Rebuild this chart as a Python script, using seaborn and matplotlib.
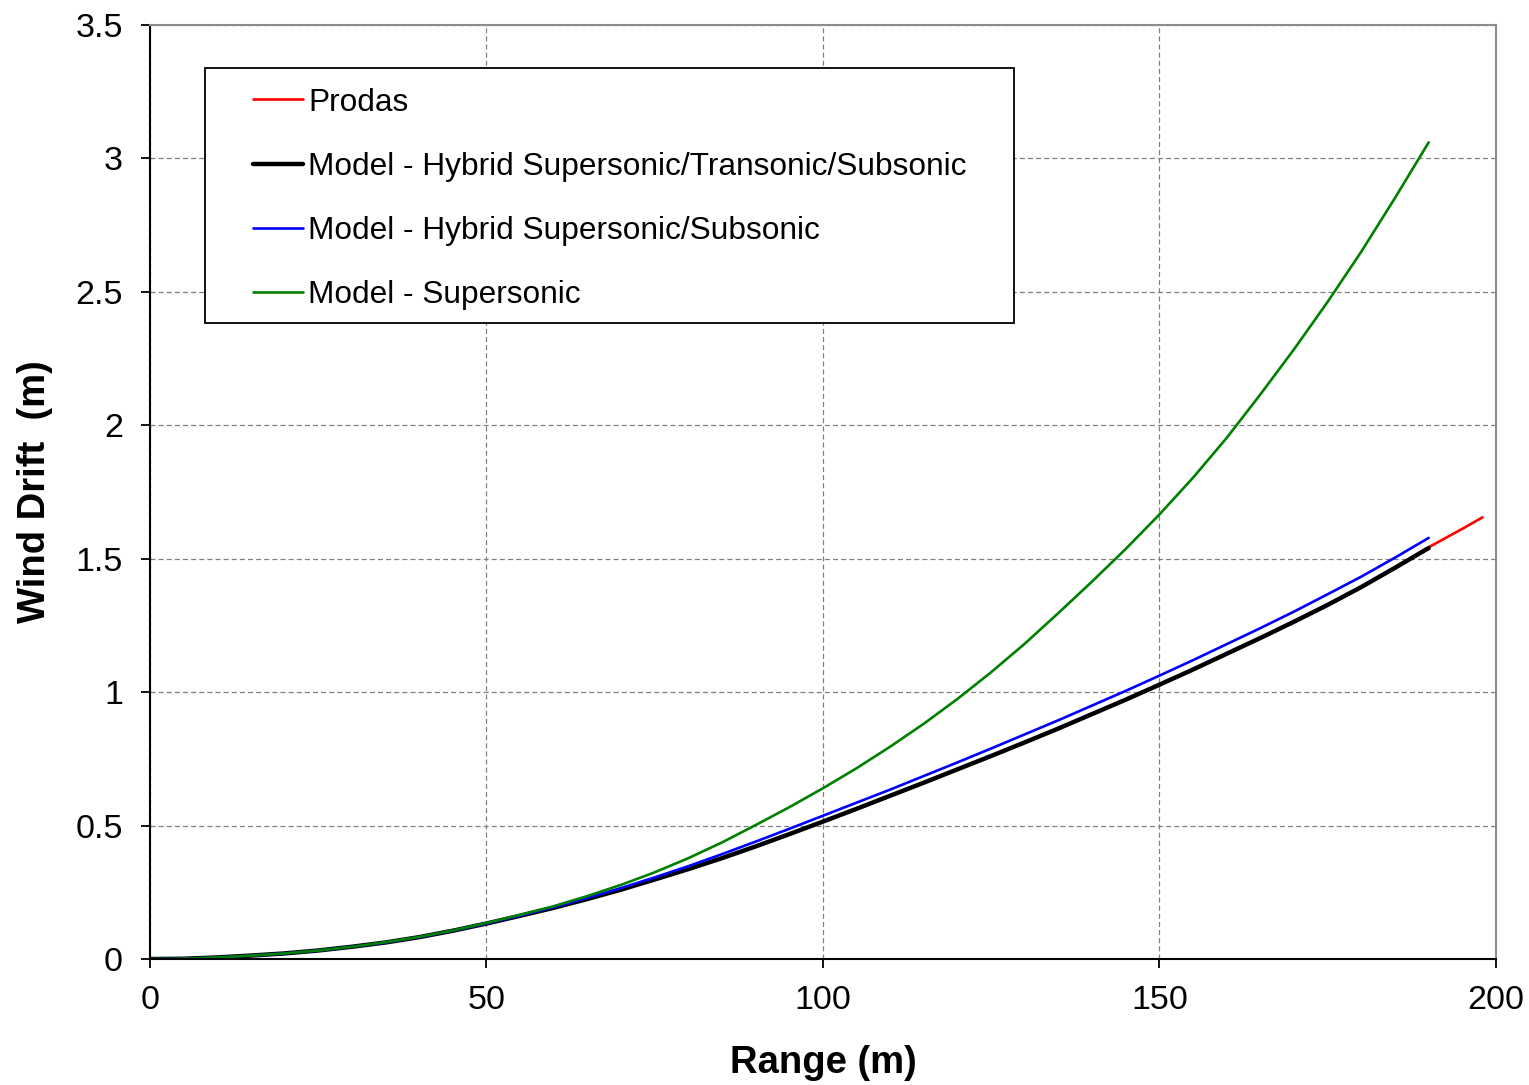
import numpy as np
import pandas as pd
import matplotlib
matplotlib.use("Agg")
import matplotlib.pyplot as plt
from matplotlib.lines import Line2D
from matplotlib.patches import Rectangle
import seaborn as sns

# Range in metres for the model curves (5 m steps)
range_m = [0, 5, 10, 15, 20, 25, 30, 35, 40, 45, 50, 55, 60, 65, 70, 75, 80, 85, 90, 95,
           100, 105, 110, 115, 120, 125, 130, 135, 140, 145, 150, 155, 160, 165, 170,
           175, 180, 185, 190]
# Prodas reference extends slightly further
prodas_range = range_m + [195, 198]

hybrid_sts = [0, 0.001, 0.006, 0.013, 0.021, 0.032, 0.046, 0.062, 0.082, 0.106, 0.133,
              0.162, 0.192, 0.225, 0.26, 0.298, 0.337, 0.378, 0.422, 0.468, 0.515,
              0.563, 0.612, 0.661, 0.711, 0.761, 0.812, 0.864, 0.918, 0.972, 1.028,
              1.085, 1.144, 1.203, 1.264, 1.327, 1.394, 1.466, 1.54]
prodas = hybrid_sts[:-1] + [1.543, 1.612, 1.655]
hybrid_ss = [0, 0.001, 0.006, 0.013, 0.021, 0.032, 0.046, 0.062, 0.082, 0.106, 0.133,
             0.163, 0.194, 0.229, 0.266, 0.306, 0.348, 0.393, 0.44, 0.488, 0.537,
             0.586, 0.635, 0.686, 0.737, 0.789, 0.842, 0.895, 0.95, 1.005, 1.062,
             1.12, 1.18, 1.24, 1.302, 1.367, 1.433, 1.504, 1.578]
supersonic = [0, 0.001, 0.006, 0.013, 0.021, 0.032, 0.046, 0.063, 0.083, 0.107, 0.135,
              0.166, 0.198, 0.236, 0.278, 0.325, 0.378, 0.437, 0.502, 0.569, 0.64,
              0.715, 0.796, 0.882, 0.975, 1.075, 1.182, 1.297, 1.415, 1.537, 1.666,
              1.804, 1.953, 2.116, 2.285, 2.463, 2.651, 2.852, 3.06]

labels = ["Prodas",
          "Model - Hybrid Supersonic/Transonic/Subsonic",
          "Model - Hybrid Supersonic/Subsonic",
          "Model - Supersonic"]
colors = ["#ff0000", "#000000", "#0000ff", "#008000"]
widths = [1.9, 3.2, 1.9, 1.9]

sns.set_theme(style="white")
plt.rcParams["font.family"] = ["Liberation Sans", "DejaVu Sans"]
plt.rcParams["text.color"] = "black"

fig = plt.figure(figsize=(15.29, 10.85), dpi=100)
ax = fig.add_axes([0.0981, 0.1161, 0.8803, 0.8609])

series = [
    (prodas_range, prodas),
    (range_m, hybrid_sts),
    (range_m, hybrid_ss),
    (range_m, supersonic),
]
for (xs, ys), lab, col, lw in zip(series, labels, colors, widths):
    df = pd.DataFrame({"Range": xs, "Drift": ys})
    sns.lineplot(data=df, x="Range", y="Drift", ax=ax, color=col,
                 linewidth=lw, legend=False)

ax.set_xlim(0, 200)
ax.set_ylim(0, 3.5)
ax.set_xticks([0, 50, 100, 150, 200])
ax.set_yticks([0, 0.5, 1, 1.5, 2, 2.5, 3, 3.5])
ax.set_yticklabels(["0", "0.5", "1", "1.5", "2", "2.5", "3", "3.5"])

ax.grid(True, color="#808080", linestyle=(0, (4, 2.5)), linewidth=0.9)
ax.set_axisbelow(True)

for side in ["left", "bottom"]:
    ax.spines[side].set_color("black")
    ax.spines[side].set_linewidth(1.5)
for side in ["top", "right"]:
    ax.spines[side].set_color("#8c8c8c")
    ax.spines[side].set_linewidth(1.5)

ax.tick_params(axis="both", which="major", direction="out", length=6.5,
               width=1.3, color="black", labelsize=24.5, labelcolor="black",
               left=True, bottom=True)
ax.tick_params(axis="y", pad=13)
ax.tick_params(axis="x", pad=12)

ax.set_xlabel("Range (m)", fontsize=27.5, fontweight="bold", labelpad=21,
              color="black")
ax.set_ylabel("Wind Drift  (m)", fontsize=27.5, fontweight="bold", labelpad=16,
              color="black")

# Legend: entries without frame plus a separate box around them
handles = [Line2D([], [], color=c, linewidth=lw) for c, lw in zip(colors, widths)]
leg = ax.legend(handles, labels, loc="upper left", bbox_to_anchor=(0.0765, 0.933),
                frameon=False, fontsize=22.75, handlelength=1.58, handletextpad=0.16,
                labelspacing=1.08, borderpad=0, borderaxespad=0)
for t in leg.get_texts():
    t.set_color("black")
leg.set_zorder(5)
ax.add_patch(Rectangle((0.0409, 0.681), 0.601, 0.273, transform=ax.transAxes,
                       facecolor="white", edgecolor="black", linewidth=1.3,
                       zorder=4))

fig.savefig("out.png", dpi=100)
